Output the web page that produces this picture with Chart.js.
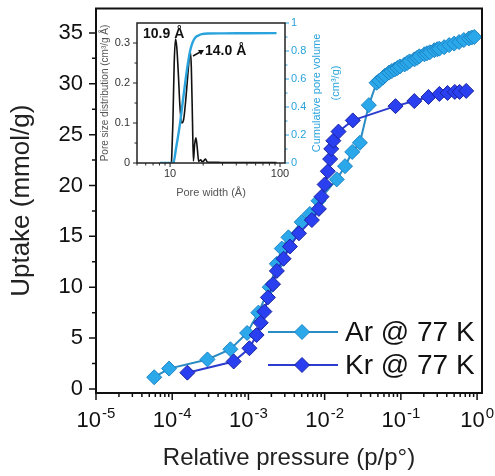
<!DOCTYPE html>
<html>
<head>
<meta charset="utf-8">
<script src="https://cdn.jsdelivr.net/npm/chart.js@4.4.1/dist/chart.umd.min.js"></script>
<style>
  html, body { margin: 0; padding: 0; background: #fff; }
  #wrap { position: relative; width: 495px; height: 476px; }
  #main { position: absolute; left: 0; top: 0; }
  #inset { position: absolute; left: 95px; top: 8px; }
</style>
</head>
<body>
<div id="wrap">
  <canvas id="main" width="495" height="476"></canvas>
  <canvas id="inset" width="250" height="200"></canvas>
</div>
<script>
// Ar @ 77 K isotherm (p/p°, mmol/g)
const arPressure = [5.8e-5, 9.1e-5, 2.9e-4, 5.8e-4, 9.6e-4, 1.35e-3, 1.9e-3, 2.36e-3, 2.74e-3, 3.35e-3,
  5.0e-3, 6.4e-3, 8.3e-3, 0.0144, 0.0185, 0.023, 0.029, 0.038, 0.048, 0.052,
  0.058, 0.062, 0.07, 0.076, 0.083, 0.09, 0.097, 0.112, 0.121, 0.13,
  0.151, 0.163, 0.175, 0.204, 0.22, 0.24, 0.275, 0.3, 0.32, 0.37,
  0.43, 0.50, 0.58, 0.67, 0.78, 0.85, 0.92];
const arUptake = [1.15, 2.0, 2.9, 3.9, 5.5, 7.5, 10.0, 12.3, 13.8, 14.9,
  16.4, 17.2, 18.5, 20.6, 21.9, 23.3, 24.2, 27.9, 30.1, 30.3,
  30.6, 30.8, 31.1, 31.25, 31.4, 31.55, 31.7, 31.9, 32.05, 32.2,
  32.4, 32.55, 32.7, 32.9, 33.0, 33.1, 33.3, 33.4, 33.45, 33.6,
  33.8, 33.95, 34.1, 34.3, 34.45, 34.55, 34.6];

// Kr @ 77 K isotherm
const krPressure = [1.58e-4, 6.4e-4, 1.03e-3, 1.28e-3, 1.45e-3, 1.62e-3, 1.8e-3, 2.1e-3, 2.36e-3, 2.89e-3,
  3.5e-3, 4.6e-3, 6.8e-3, 8.4e-3, 9.1e-3, 1.0e-2, 1.1e-2, 1.18e-2, 1.22e-2, 1.3e-2,
  1.52e-2, 2.34e-2, 0.085, 0.15, 0.23, 0.32, 0.41, 0.51, 0.59, 0.72];
const krUptake = [1.6, 2.7, 4.0, 5.3, 6.5, 7.6, 9.0, 10.3, 11.6, 12.8,
  14.0, 15.3, 16.6, 17.7, 18.9, 20.1, 21.4, 22.6, 23.6, 24.4,
  25.3, 26.4, 27.8, 28.3, 28.7, 29.0, 29.1, 29.2, 29.2, 29.3];

// inset: pore size distribution + cumulative pore volume
const psdWidth = [10.3, 10.6, 10.9, 11.2, 11.5, 11.9, 12.3, 12.8, 13.3, 13.8,
  14.3, 14.8, 15.2, 15.6, 16.0, 16.3, 16.7, 17.2, 17.7, 18.2,
  19.0, 19.5, 20.2, 21.0, 21.6, 22.3, 25, 30, 40, 60, 93];
const psdValue = [0, 0.10, 0.25, 0.31, 0.29, 0.22, 0.14, 0.10, 0.11, 0.15,
  0.20, 0.25, 0.28, 0.24, 0.10, 0.005, 0.045, 0.063, 0.035, 0.004,
  0.008, 0.003, 0.005, 0.01, 0.004, 0.002, 0.002, 0.001, 0.001, 0.001, 0.001];
const cumWidth = [8.1, 10.7, 11.3, 12.3, 13.2, 14.2, 15.2, 16.0, 16.9, 18.0, 19.4, 22, 30, 50, 93];
const cumValue = [0, 0, 0.10, 0.28, 0.47, 0.66, 0.80, 0.86, 0.895, 0.91, 0.92, 0.925, 0.926, 0.927, 0.928];

// ticks
const xTickValues = [1e-5, 1e-4, 1e-3, 1e-2, 1e-1, 1];
const xTickExp = ['-5', '-4', '-3', '-2', '-1', '0'];
const yTickValues = [0, 5, 10, 15, 20, 25, 30, 35];
const insetXTicks = [10, 100];
const insetYTicks = [0, 0.1, 0.2, 0.3];
const insetY2Ticks = [0, 0.2, 0.4, 0.6, 0.8, 1];

const FONT = 'Arial, "Liberation Sans", sans-serif';
const AR = { fill: '#2ba8ea', edge: '#1b84c6', line: '#2a8cc2' };
const KR = { fill: '#2a40f0', edge: '#1a22a0', line: '#2c3ccf' };
const CUM_BLUE = '#2aa3dc';

const toPoints = (xs, ys) => xs.map((v, i) => ({ x: v, y: ys[i] }));

function minorLog(from, to) {
  const out = [];
  for (let e = from; e < to; e++) for (let m = 2; m <= 9; m++) out.push(m * Math.pow(10, e));
  return out;
}

// tick marks outside the plot frame
function marks(ctx, chart, scale, values, edge, len) {
  const a = chart.chartArea;
  ctx.beginPath();
  values.forEach(v => {
    const p = scale.getPixelForValue(v);
    if (edge === 'bottom') { ctx.moveTo(p, a.bottom); ctx.lineTo(p, a.bottom + len); }
    if (edge === 'left') { ctx.moveTo(a.left, p); ctx.lineTo(a.left - len, p); }
    if (edge === 'right') { ctx.moveTo(a.right, p); ctx.lineTo(a.right + len, p); }
  });
  ctx.stroke();
}

function diamond(ctx, x, y, r, fill, stroke) {
  ctx.beginPath();
  ctx.moveTo(x, y - r); ctx.lineTo(x + r, y); ctx.lineTo(x, y + r); ctx.lineTo(x - r, y);
  ctx.closePath();
  ctx.fillStyle = fill; ctx.fill();
  ctx.strokeStyle = stroke; ctx.lineWidth = 1; ctx.stroke();
}

const noPad = s => { s.paddingTop = 0; s.paddingBottom = 0; s.paddingLeft = 0; s.paddingRight = 0; };

// frame, ticks, x labels with exponents, legend
const mainDecor = {
  id: 'mainDecor',
  afterDraw(chart) {
    const { ctx, chartArea: a, scales: { x, y } } = chart;
    ctx.save();
    ctx.strokeStyle = '#111';
    ctx.lineWidth = 1.5;
    marks(ctx, chart, x, minorLog(-5, 0), 'bottom', 4);
    marks(ctx, chart, x, xTickValues, 'bottom', 7);
    marks(ctx, chart, y, yTickValues, 'left', 7);
    marks(ctx, chart, y, yTickValues.slice(0, -1).map(v => v + 2.5), 'left', 4);
    ctx.lineWidth = 2;
    ctx.strokeRect(a.left, a.top, a.right - a.left, a.bottom - a.top);

    ctx.fillStyle = '#111';
    ctx.textAlign = 'left';
    ctx.textBaseline = 'alphabetic';
    xTickValues.forEach((v, i) => {
      const px = x.getPixelForValue(v);
      ctx.font = '22px ' + FONT;
      const bw = ctx.measureText('10').width;
      ctx.font = '15px ' + FONT;
      const ew = ctx.measureText(xTickExp[i]).width;
      const start = px - (bw + ew + 1) / 2;
      ctx.font = '22px ' + FONT;
      ctx.fillText('10', start, a.bottom + 34);
      ctx.font = '15px ' + FONT;
      ctx.fillText(xTickExp[i], start + bw + 1, a.bottom + 25);
    });

    // legend
    const rows = [['Ar @ 77 K', AR, a.bottom - 61], ['Kr @ 77 K', KR, a.bottom - 28]];
    rows.forEach(([label, c, ly]) => {
      ctx.strokeStyle = c.line; ctx.lineWidth = 2;
      ctx.beginPath(); ctx.moveTo(a.right - 214, ly); ctx.lineTo(a.right - 144, ly); ctx.stroke();
      diamond(ctx, a.right - 180, ly, 7.5, c.fill, c.edge);
      ctx.fillStyle = '#111';
      ctx.font = '28px ' + FONT;
      ctx.textBaseline = 'middle';
      ctx.fillText(label, a.right - 137, ly + 1);
    });
    ctx.restore();
  }
};

new Chart(document.getElementById('main'), {
  type: 'line',
  data: {
    datasets: [
      {
        label: 'Ar @ 77 K', data: toPoints(arPressure, arUptake), order: 2,
        borderColor: AR.line, borderWidth: 2,
        pointStyle: 'rectRot', pointRadius: 7.5, pointBackgroundColor: AR.fill,
        pointBorderColor: AR.edge, pointBorderWidth: 1
      },
      {
        label: 'Kr @ 77 K', data: toPoints(krPressure, krUptake), order: 1,
        borderColor: KR.line, borderWidth: 2,
        pointStyle: 'rectRot', pointRadius: 7.5, pointBackgroundColor: KR.fill,
        pointBorderColor: KR.edge, pointBorderWidth: 1
      }
    ]
  },
  options: {
    responsive: false,
    animation: false,
    layout: { padding: { top: 8, right: 13, left: 0, bottom: 0 } },
    plugins: { legend: { display: false }, tooltip: { enabled: false } },
    scales: {
      x: {
        type: 'logarithmic', min: 1e-5, max: 1.16,
        afterBuildTicks: s => { s.ticks = xTickValues.map(v => ({ value: v })); },
        ticks: { display: false },
        grid: { display: false, drawTicks: false },
        border: { display: false },
        title: {
          display: true, text: 'Relative pressure (p/p°)', color: '#222',
          font: { family: FONT, size: 24 }, padding: { top: 0, bottom: 3 }
        },
        afterFit: s => { s.height = 83; noPad(s); }
      },
      y: {
        min: -0.4, max: 37.4,
        afterBuildTicks: s => { s.ticks = yTickValues.map(v => ({ value: v })); },
        ticks: { color: '#111', font: { family: FONT, size: 22 }, padding: 13, autoSkip: false },
        grid: { display: false, drawTicks: false },
        border: { display: false },
        title: {
          display: true, text: 'Uptake (mmol/g)', color: '#222',
          font: { family: FONT, size: 26 }, padding: { top: 6, bottom: 0 }
        },
        afterFit: s => { s.width = 96; noPad(s); }
      }
    }
  },
  plugins: [mainDecor]
});

// inset decorations: frame, ticks, right title, peak labels
const insetDecor = {
  id: 'insetDecor',
  afterDraw(chart) {
    const { ctx, chartArea: a, scales: { x, y, y2 } } = chart;
    ctx.save();
    ctx.strokeStyle = '#222';
    ctx.lineWidth = 1;
    marks(ctx, chart, x, minorLog(0, 2).filter(v => v >= 5), 'bottom', 2.5);
    marks(ctx, chart, x, insetXTicks, 'bottom', 4);
    marks(ctx, chart, y, insetYTicks, 'left', 4);
    marks(ctx, chart, y, [0.05, 0.15, 0.25], 'left', 2.5);
    ctx.strokeStyle = CUM_BLUE;
    marks(ctx, chart, y2, insetY2Ticks, 'right', 4);
    marks(ctx, chart, y2, [0.1, 0.3, 0.5, 0.7, 0.9], 'right', 2.5);
    ctx.strokeStyle = '#222';
    ctx.lineWidth = 1.5;
    ctx.strokeRect(a.left, a.top, a.right - a.left, a.bottom - a.top);

    // right axis title, reading bottom to top
    ctx.fillStyle = CUM_BLUE;
    ctx.font = '11px ' + FONT;
    ctx.textAlign = 'center';
    ctx.textBaseline = 'middle';
    const cy = (a.top + a.bottom) / 2;
    ctx.save();
    ctx.translate(a.right + 32, cy);
    ctx.rotate(-Math.PI / 2);
    ctx.fillText('Cumulative pore volume', 0, 0);
    ctx.restore();
    ctx.save();
    ctx.translate(a.right + 51, cy - 10);
    ctx.rotate(-Math.PI / 2);
    ctx.fillText('(cm³/g)', 0, 0);
    ctx.restore();

    // peak labels
    ctx.fillStyle = '#111';
    ctx.font = 'bold 14px ' + FONT;
    ctx.textAlign = 'left';
    ctx.fillText('10.9 Å', a.left + 6, a.top + 11);
    ctx.fillText('14.0 Å', a.left + 68, a.top + 28);
    ctx.strokeStyle = '#111';
    ctx.lineWidth = 1.5;
    ctx.beginPath();
    ctx.moveTo(a.left + 56, a.top + 33); ctx.lineTo(a.left + 65, a.top + 28); ctx.stroke();
    ctx.beginPath();
    ctx.moveTo(a.left + 67, a.top + 27); ctx.lineTo(a.left + 61, a.top + 27);
    ctx.lineTo(a.left + 64, a.top + 32); ctx.closePath();
    ctx.fill();
    ctx.restore();
  }
};

new Chart(document.getElementById('inset'), {
  type: 'line',
  data: {
    datasets: [
      {
        data: toPoints(cumWidth, cumValue), yAxisID: 'y2', order: 1,
        borderColor: CUM_BLUE, borderWidth: 2.4, pointRadius: 0, cubicInterpolationMode: 'monotone'
      },
      {
        data: toPoints(psdWidth, psdValue), yAxisID: 'y', order: 2,
        borderColor: '#111', borderWidth: 1.6, pointRadius: 0, cubicInterpolationMode: 'monotone'
      }
    ]
  },
  options: {
    responsive: false,
    animation: false,
    layout: { padding: { top: 15, left: 0, right: 0, bottom: 0 } },
    plugins: { legend: { display: false }, tooltip: { enabled: false } },
    scales: {
      x: {
        type: 'logarithmic', min: 5, max: 111,
        afterBuildTicks: s => { s.ticks = insetXTicks.map(v => ({ value: v })); },
        ticks: {
          color: '#333', font: { family: FONT, size: 11 }, padding: 4,
          maxRotation: 0, autoSkip: false, callback: v => String(v)
        },
        grid: { display: false, drawTicks: false },
        border: { display: false },
        title: {
          display: true, text: 'Pore width (Å)', color: '#555',
          font: { family: FONT, size: 11 }, padding: { top: 0, bottom: 8 }
        },
        afterFit: s => { s.height = 45; noPad(s); }
      },
      y: {
        position: 'left', min: 0, max: 0.35,
        afterBuildTicks: s => { s.ticks = insetYTicks.map(v => ({ value: v })); },
        ticks: { color: '#333', font: { family: FONT, size: 11 }, padding: 7, autoSkip: false, callback: v => String(v) },
        grid: { display: false, drawTicks: false },
        border: { display: false },
        title: {
          display: true, text: 'Pore size distribution (cm³/g Å)', color: '#555',
          font: { family: FONT, size: 10 }, padding: { top: 4, bottom: 0 }
        },
        afterFit: s => { s.width = 42; noPad(s); }
      },
      y2: {
        position: 'right', min: 0, max: 1,
        afterBuildTicks: s => { s.ticks = insetY2Ticks.map(v => ({ value: v })); },
        ticks: { color: CUM_BLUE, font: { family: FONT, size: 11 }, padding: 6, autoSkip: false, callback: v => String(v) },
        grid: { display: false, drawTicks: false },
        border: { display: false },
        afterFit: s => { s.width = 60; noPad(s); }
      }
    }
  },
  plugins: [insetDecor]
});
</script>
</body>
</html>
